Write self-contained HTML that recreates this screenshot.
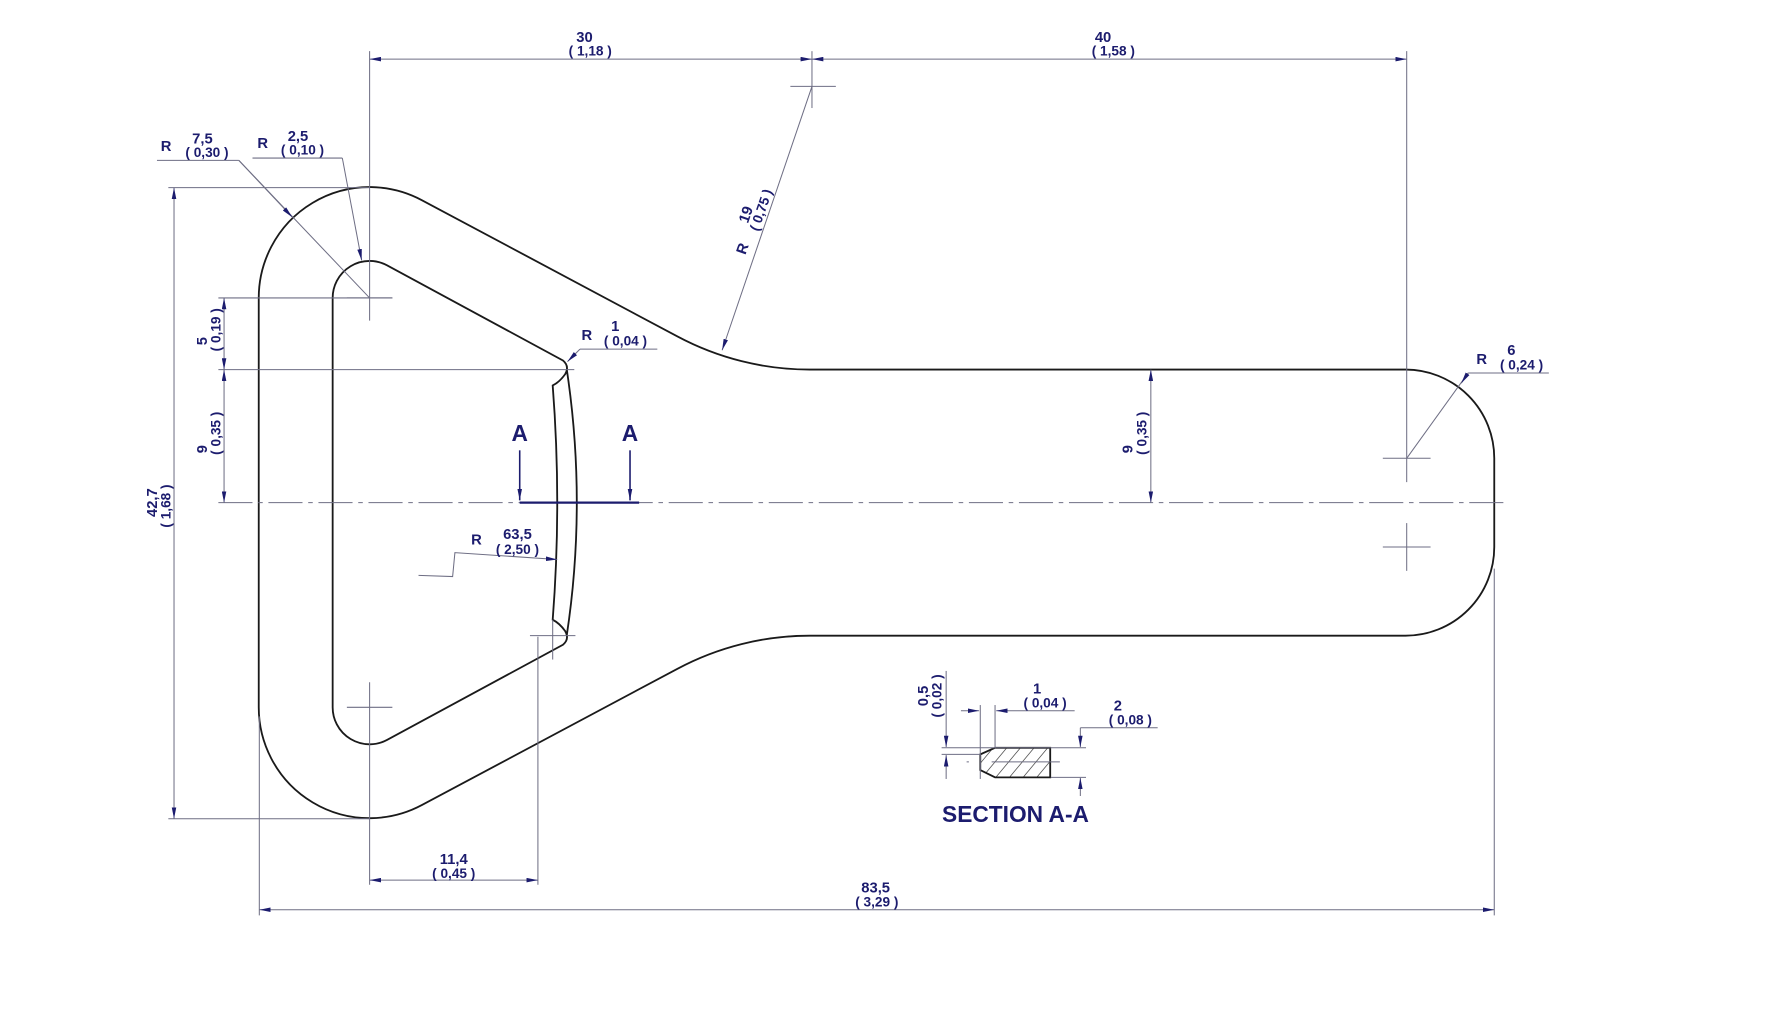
<!DOCTYPE html>
<html><head><meta charset="utf-8"><style>
html,body{margin:0;padding:0;background:#fff;}
svg{display:block;}
text{font-family:"Liberation Sans",sans-serif;font-weight:bold;fill:#1c1c6e;}
.d{stroke:#6e6e84;stroke-width:0.9;fill:none;}
.o{stroke:#1a1a1a;stroke-width:1.6;fill:none;}
.t{font-size:13px;}
.s{font-size:12px;}
</style></head><body>
<svg width="1782" height="1009" viewBox="0 0 1567 887.3" xmlns="http://www.w3.org/2000/svg">
<defs>
<marker id="a" viewBox="0 0 10 4" refX="10" refY="2" markerWidth="10" markerHeight="4" markerUnits="userSpaceOnUse" orient="auto-start-reverse"><path d="M0,0 L10,2 L0,4z" fill="#1c1c6e"/></marker>
</defs>

<!-- outer contour -->
<path class="o" d="M370.9,176 L595.7,295.9 A247,247 0 0 0 712,325 L1236,325 A78,78 0 0 1 1314,403 L1314,481 A78,78 0 0 1 1236,559 L712,559 A247,247 0 0 0 595.7,588.1 L370.9,708 A97.5,97.5 0 0 1 227.5,622 L227.5,262 A97.5,97.5 0 0 1 370.9,176 Z"/>
<!-- inner contour -->
<path class="o" d="M340.3,233.3 L495,317 Q501,322 497,329 Q492,336 486,339 Q494,442 486,545 Q492,548 497,555 Q501,562 495,567 L340.3,650.7 A32.5,32.5 0 0 1 292.5,622 L292.5,262 A32.5,32.5 0 0 1 340.3,233.3 Z"/>
<path class="o" d="M498.4,325 Q516,442 498.4,558.5"/>

<!-- centerline -->
<line class="d" x1="192" y1="442" x2="1325" y2="442" stroke-dasharray="30,5,4,5"/>

<!-- crosshairs / extension lines -->
<line class="d" x1="325" y1="45" x2="325" y2="282"/>
<line class="d" x1="305" y1="262" x2="345" y2="262"/>
<line class="d" x1="325" y1="600" x2="325" y2="778"/>
<line class="d" x1="305" y1="622" x2="345" y2="622"/>
<line class="d" x1="714" y1="45" x2="714" y2="95"/>
<line class="d" x1="695" y1="76" x2="735" y2="76"/>
<line class="d" x1="1237" y1="45" x2="1237" y2="424"/>
<line class="d" x1="1216" y1="403" x2="1258" y2="403"/>
<line class="d" x1="1237" y1="460" x2="1237" y2="502"/>
<line class="d" x1="1216" y1="481" x2="1258" y2="481"/>
<line class="d" x1="148" y1="165" x2="325" y2="165"/>
<line class="d" x1="148" y1="720" x2="325" y2="720"/>
<line class="d" x1="192" y1="262" x2="345" y2="262"/>
<line class="d" x1="192" y1="325" x2="505" y2="325"/>
<line class="d" x1="228" y1="630" x2="228" y2="805"/>
<line class="d" x1="1314" y1="500" x2="1314" y2="805"/>
<line class="d" x1="473" y1="560" x2="473" y2="778"/>
<line class="d" x1="466" y1="559" x2="506" y2="559"/>
<line class="d" x1="486" y1="545" x2="486" y2="580"/>

<!-- dimension lines -->
<line class="d" x1="325" y1="52" x2="714" y2="52" marker-start="url(#a)" marker-end="url(#a)"/>
<line class="d" x1="714" y1="52" x2="1237" y2="52" marker-start="url(#a)" marker-end="url(#a)"/>
<text class="t" x="514" y="37" text-anchor="middle">30</text>
<text class="s" x="519" y="49" text-anchor="middle">( 1,18 )</text>
<text class="t" x="970" y="37" text-anchor="middle">40</text>
<text class="s" x="979" y="49" text-anchor="middle">( 1,58 )</text>

<line class="d" x1="153" y1="165" x2="153" y2="720" marker-start="url(#a)" marker-end="url(#a)"/>
<text class="t" transform="translate(138,442) rotate(-90)" text-anchor="middle">42,7</text>
<text class="s" transform="translate(150,445) rotate(-90)" text-anchor="middle">( 1,68 )</text>

<line class="d" x1="197" y1="262" x2="197" y2="325" marker-start="url(#a)" marker-end="url(#a)"/>
<text class="t" transform="translate(182,300) rotate(-90)" text-anchor="middle">5</text>
<text class="s" transform="translate(194,290) rotate(-90)" text-anchor="middle">( 0,19 )</text>
<line class="d" x1="197" y1="325" x2="197" y2="442" marker-start="url(#a)" marker-end="url(#a)"/>
<text class="t" transform="translate(182,395) rotate(-90)" text-anchor="middle">9</text>
<text class="s" transform="translate(194,381) rotate(-90)" text-anchor="middle">( 0,35 )</text>

<line class="d" x1="1012" y1="325" x2="1012" y2="442" marker-start="url(#a)" marker-end="url(#a)"/>
<text class="t" transform="translate(996,395) rotate(-90)" text-anchor="middle">9</text>
<text class="s" transform="translate(1008,381) rotate(-90)" text-anchor="middle">( 0,35 )</text>

<line class="d" x1="325" y1="774" x2="473" y2="774" marker-start="url(#a)" marker-end="url(#a)"/>
<text class="t" x="399" y="760" text-anchor="middle">11,4</text>
<text class="s" x="399" y="772" text-anchor="middle">( 0,45 )</text>

<line class="d" x1="228" y1="800" x2="1314" y2="800" marker-start="url(#a)" marker-end="url(#a)"/>
<text class="t" x="770" y="785" text-anchor="middle">83,5</text>
<text class="s" x="771" y="797" text-anchor="middle">( 3,29 )</text>

<!-- radius leaders -->
<polyline class="d" points="714,76 635,308" marker-end="url(#a)"/>
<text class="t" transform="translate(657,220) rotate(-71)" text-anchor="middle">R</text>
<text class="t" transform="translate(660,190) rotate(-71)" text-anchor="middle">19</text>
<text class="s" transform="translate(673,186) rotate(-71)" text-anchor="middle">( 0,75 )</text>

<line class="d" x1="138" y1="141" x2="210" y2="141"/>
<line class="d" x1="210" y1="141" x2="325" y2="262"/>
<line class="d" x1="210" y1="141" x2="257" y2="191" marker-end="url(#a)"/>
<text class="t" x="146" y="133" text-anchor="middle">R</text>
<text class="t" x="178" y="126" text-anchor="middle">7,5</text>
<text class="s" x="182" y="138" text-anchor="middle">( 0,30 )</text>

<line class="d" x1="222" y1="139" x2="301" y2="139"/>
<line class="d" x1="301" y1="139" x2="318" y2="229" marker-end="url(#a)"/>
<text class="t" x="231" y="130" text-anchor="middle">R</text>
<text class="t" x="262" y="124" text-anchor="middle">2,5</text>
<text class="s" x="266" y="136" text-anchor="middle">( 0,10 )</text>

<line class="d" x1="1291" y1="328" x2="1362" y2="328"/>
<line class="d" x1="1237" y1="403" x2="1291" y2="328"/>
<line class="d" x1="1291" y1="328" x2="1285" y2="337" marker-end="url(#a)"/>
<text class="t" x="1303" y="320" text-anchor="middle">R</text>
<text class="t" x="1329" y="312" text-anchor="middle">6</text>
<text class="s" x="1338" y="325" text-anchor="middle">( 0,24 )</text>

<line class="d" x1="510" y1="307" x2="578" y2="307"/>
<line class="d" x1="510" y1="307" x2="499" y2="318" marker-end="url(#a)"/>
<text class="t" x="516" y="299" text-anchor="middle">R</text>
<text class="t" x="541" y="291" text-anchor="middle">1</text>
<text class="s" x="550" y="304" text-anchor="middle">( 0,04 )</text>

<polyline class="d" points="368,506 398,507 400,486 490,492" marker-end="url(#a)"/>
<text class="t" x="419" y="479" text-anchor="middle">R</text>
<text class="t" x="455" y="474" text-anchor="middle">63,5</text>
<text class="s" x="455" y="487" text-anchor="middle">( 2,50 )</text>

<!-- section cut -->
<line x1="457" y1="442" x2="562" y2="442" stroke="#1c1c6e" stroke-width="2"/>
<line x1="457" y1="396" x2="457" y2="440" stroke="#1c1c6e" stroke-width="1.4" marker-end="url(#a)"/>
<line x1="554" y1="396" x2="554" y2="440" stroke="#1c1c6e" stroke-width="1.4" marker-end="url(#a)"/>
<text x="457" y="388" font-size="20" text-anchor="middle">A</text>
<text x="554" y="388" font-size="20" text-anchor="middle">A</text>

<!-- section A-A -->
<defs><clipPath id="c"><path d="M875,657.6 L923.5,657.6 L923.5,683.6 L875,683.6 L862,677.2 L862,663.4 Z"/></clipPath></defs>
<g clip-path="url(#c)" stroke="#555" stroke-width="0.7">
<line x1="850" y1="700" x2="900" y2="640"/><line x1="862" y1="700" x2="912" y2="640"/>
<line x1="874" y1="700" x2="924" y2="640"/><line x1="886" y1="700" x2="936" y2="640"/>
<line x1="898" y1="700" x2="948" y2="640"/><line x1="910" y1="700" x2="960" y2="640"/>
<line x1="838" y1="700" x2="888" y2="640"/>
</g>
<path class="o" d="M875,657.6 L923.5,657.6 L923.5,683.6 L875,683.6 L862,677.2 L862,663.4 Z"/>
<line class="d" x1="828" y1="657.6" x2="955" y2="657.6"/>
<line class="d" x1="828" y1="663.4" x2="862" y2="663.4"/>
<line class="d" x1="924" y1="683.6" x2="955" y2="683.6"/>
<line class="d" x1="832" y1="590" x2="832" y2="657" marker-end="url(#a)"/>
<line class="d" x1="832" y1="685" x2="832" y2="664" marker-end="url(#a)"/>
<text class="t" transform="translate(816,612) rotate(-90)" text-anchor="middle">0,5</text>
<text class="s" transform="translate(828,612) rotate(-90)" text-anchor="middle">( 0,02 )</text>
<line class="d" x1="862" y1="620" x2="862" y2="685"/>
<line class="d" x1="875" y1="620" x2="875" y2="658"/>
<line class="d" x1="845" y1="625" x2="861" y2="625" marker-end="url(#a)"/>
<line class="d" x1="945" y1="625" x2="876" y2="625" marker-end="url(#a)"/>
<text class="t" x="912" y="610" text-anchor="middle">1</text>
<text class="s" x="919" y="622" text-anchor="middle">( 0,04 )</text>
<line class="d" x1="950" y1="640" x2="1018" y2="640"/>
<line class="d" x1="950" y1="640" x2="950" y2="657" marker-end="url(#a)"/>
<line class="d" x1="950" y1="700" x2="950" y2="684" marker-end="url(#a)"/>
<text class="t" x="983" y="625" text-anchor="middle">2</text>
<text class="s" x="994" y="637" text-anchor="middle">( 0,08 )</text>
<line class="d" x1="850" y1="670" x2="935" y2="670" stroke-dasharray="2,20,60,20"/>
<text x="893" y="723" font-size="20" text-anchor="middle">SECTION A-A</text>
</svg>
</body></html>
